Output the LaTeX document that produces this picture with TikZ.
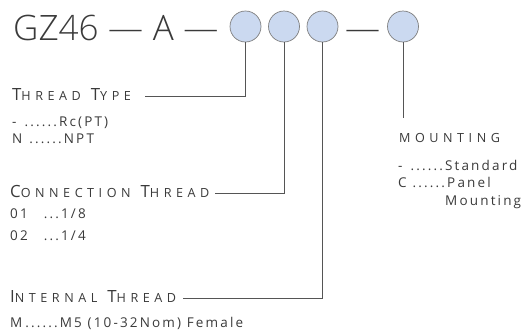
\documentclass[tikz,border=0pt]{standalone}
\usepackage{fontspec}
\setmainfont{Open Sans}
\IfFontExistsTF{Open Sans Light}{\newfontfamily\titlefont{Open Sans Light}}{\newfontfamily\titlefont{Open Sans}}
\definecolor{txt}{HTML}{3A3A3A}
\definecolor{lin}{HTML}{555555}
\definecolor{cfill}{HTML}{CBD9F0}
\definecolor{cdraw}{HTML}{7F7F7F}
\newcommand\bigsc[1]{{\fontsize{16.8}{18}\selectfont\addfontfeatures{LetterSpace=30}#1}}
\newcommand\smsc[1]{{\fontsize{12.6}{14}\selectfont\addfontfeatures{LetterSpace=36}#1}}
\newcommand\wgap{\hspace{10pt}}
\newcommand\tgap{\hspace{0.5pt}}
\begin{document}
\begin{tikzpicture}[x=1pt,y=-1pt,
  title/.style={anchor=base west,inner sep=0pt,text=txt,font=\titlefont\fontsize{35}{40}\selectfont},
  dot/.style={circle,draw=cdraw,fill=cfill,line width=0.7pt,minimum size=31pt,inner sep=0pt},
  head/.style={anchor=base west,inner sep=0pt,text=txt},
  item/.style={anchor=base west,inner sep=0pt,text=txt,font=\fontsize{13.5}{16}\selectfont\addfontfeatures{LetterSpace=16}},
  conn/.style={draw=lin,line width=0.8pt}]
\useasboundingbox (0,0) rectangle (528,335);
\node[title] (gz) at (13,40) {GZ46\tgap{} —\tgap{} A\tgap{} —};
\node[dot] (c1) at (245.5,26.5) {};
\node[dot] (c2) at (284,26.5) {};
\node[dot] (c3) at (322.5,26.5) {};
\node[dot] (c4) at (403,26.5) {};
\node[title,anchor=base] (d3) at (362.5,40) {—};
% Thread type
\node[head] (tt) at (12,100) {\bigsc{T}\smsc{HREAD}\wgap\bigsc{T}\smsc{YPE}};
\coordinate (tte) at (145,96);
\draw[conn] (c1.south) |- (tte);
\node[item] (tt1) at (12,126) {-\hspace{8pt}......Rc(PT)};
\node[item] (tt2) at (12,143) {N\hspace{7pt}......NPT};
% Connection thread
\node[head] (ct) at (10,197) {\bigsc{C}\smsc{ONNECTION}\wgap\bigsc{T}\smsc{HREAD}};
\coordinate (cte) at (215,193);
\draw[conn] (c2.south) |- (cte);
\node[item] (ct1) at (10,218) {01\hspace{16pt}...1/8};
\node[item] (ct2) at (10,240) {02\hspace{16pt}...1/4};
% Internal thread
\node[head] (it) at (10,302) {\bigsc{I}\smsc{NTERNAL}\wgap\bigsc{T}\smsc{HREAD}};
\coordinate (ite) at (183,298);
\draw[conn] (c3.south) |- (ite);
\node[item] (it1) at (10,327) {M\hspace{3pt}......M5 (10-32Nom) Female};
% Mounting
\coordinate (mt) at (403,118);
\draw[conn] (c4.south) -- (mt);
\node[head] (mh) at (399,142) {\smsc{MOUNTING}};
\node[item] (m1) at (398,170) {-\hspace{8pt}......Standard};
\node[item] (m2) at (398,187) {C\hspace{6pt}......Panel};
\node[item] (m3) at (445,205) {Mounting};
\end{tikzpicture}
\end{document}
